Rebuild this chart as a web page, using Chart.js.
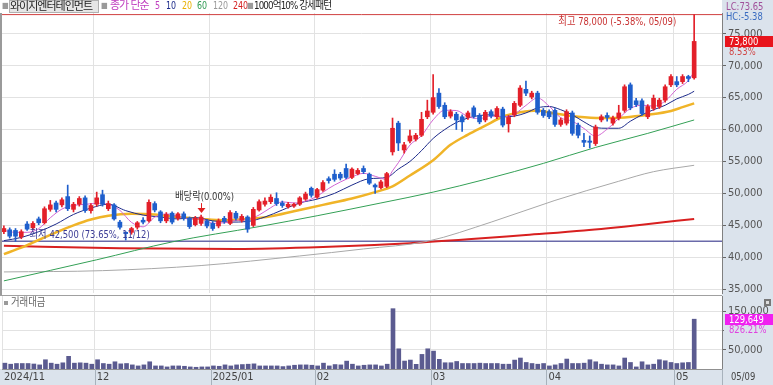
<!DOCTYPE html>
<html lang="ko">
<head>
<meta charset="utf-8">
<script src="https://cdn.jsdelivr.net/npm/chart.js@4.4.1/dist/chart.umd.min.js"></script>
<style>
  body { margin: 0; background: #fff; }
  #wrap { position: relative; width: 773px; height: 385px; overflow: hidden; background: #fff;
          font-family: "Liberation Sans Narrow", "DejaVu Sans Condensed", "Noto Sans CJK KR", sans-serif; }
  #axisBg { position: absolute; left: 722px; top: 0; width: 51px; height: 385px; background: #dbe3ec; }
  #bandBg { position: absolute; left: 0; top: 369px; width: 773px; height: 16px; background: #dbe3ec; }
  #leftLine { position: absolute; left: 0; top: 13px; width: 2px; height: 282px; background: #9a9a9a; }
  #sepLine { position: absolute; left: 0; top: 295px; width: 722px; height: 1px; background: #a0a0a0; }
  canvas { position: absolute; left: 0; }
  #main { top: 0; }
  #vol { top: 296px; }
  .h { position: absolute; top: 0; font-size: 11px; line-height: 12px; white-space: nowrap;
       transform-origin: left center; }
  .sq { color: #9a9a9a; font-size: 8px; top: 0; }
  .ko { letter-spacing: -1px; }
  .d { transform: scaleX(0.8); }
  .name { width: 88px; height: 11px; background: #e6e6e6; border: 1px solid #b0b0b0; color: #222; }
</style>
</head>
<body>
<div id="wrap">
  <div id="axisBg"></div>
  <div id="bandBg"></div>
  <canvas id="main" width="773" height="295"></canvas>
  <canvas id="vol" width="773" height="89"></canvas>
  <div id="leftLine"></div>
  <div id="sepLine"></div>

  <span class="h sq" style="left:2px">■</span>
  <span class="h ko name" style="left:9px">와이지엔터테인먼트</span>
  <span class="h sq" style="left:101px">■</span>
  <span class="h ko" style="left:110px;color:#c040c0">종가 단순</span>
  <span class="h d" style="left:155px;color:#c040c0">5</span>
  <span class="h d" style="left:166px;color:#1c2a8a">10</span>
  <span class="h d" style="left:182px;color:#e8b000">20</span>
  <span class="h d" style="left:197px;color:#2e9a52">60</span>
  <span class="h d" style="left:213px;color:#999">120</span>
  <span class="h d" style="left:233px;color:#d42020">240</span>
  <span class="h sq" style="left:247px">■</span>
  <span class="h ko" style="left:254px;color:#222;transform:scaleX(0.88)">1000억10% 강세패턴</span>
</div>

<script>
    // 일봉 (2024/11/08 ~ 2025/05/09)
    const opens = [44000,44300,44200,43200,45200,44600,46000,45400,47500,48500,
        48200,49500,47500,48300,49300,47300,48300,49800,47600,48200,
        45500,43900,43900,44700,45800,45700,48400,47100,45700,46900,
        46100,46800,46100,45100,45300,45700,45300,44900,46100,45300,
        46900,45800,46300,45000,47400,48300,48700,49200,48500,47900,
        48000,48300,49100,50800,49400,50500,52300,53000,53000,53900,
        52500,53100,53900,53000,51300,50900,51100,56500,61000,56800,
        58200,58500,59100,62000,62700,65700,63800,62100,62400,62000,
        61900,63400,62200,61500,62800,62000,63200,60900,62300,63800,
        66300,65100,65700,63000,62800,63000,60800,61000,62600,60700,
        58300,58200,57800,61500,62200,61000,61800,63000,67000,64500,
        64500,62000,63300,63600,64600,67000,67500,67500,68300,68100];
    const highs = [44900,44600,44500,44300,45600,45600,46300,47900,48900,48800,
        49300,51300,48600,49500,49600,48400,50200,50500,48800,48400,
        45800,44000,44700,45600,46200,49000,48700,47300,47000,47100,
        47000,47100,46300,46400,46600,45900,45600,46000,46400,47300,
        47200,46700,46500,47800,49000,49300,49800,50100,48800,48600,
        48500,49500,50200,51000,50800,52000,52600,53700,53300,54600,
        54000,53900,54300,53200,51500,52100,53300,61800,61300,58000,
        59900,59400,62700,64600,68600,66400,64200,63100,62700,62300,
        62900,63700,62500,63000,63100,63600,63500,62200,64400,66900,
        67600,66000,66000,63300,63100,63300,61800,63100,62900,61000,
        59400,59000,60700,62300,62600,62100,63800,67000,67300,64900,
        64800,63900,65400,64900,67000,68600,68300,68600,68500,78000];
    const lows = [43700,43000,42500,42900,44200,44300,45100,45200,47200,47100,
        47900,47300,47100,48000,47000,46900,48000,48000,47300,45800,
        44400,42700,43600,44400,45200,45500,47100,45400,45400,45200,
        45800,45800,44500,44900,45000,44600,44200,44600,45300,45100,
        45800,45500,43900,44800,47200,48000,48400,48100,47800,47700,
        47800,48100,48900,49400,49200,50300,51600,51900,52100,52300,
        52300,52900,53100,51400,50000,50700,50900,56000,56700,56300,
        57900,58200,58900,61700,62400,63300,61700,61800,60000,59700,
        61600,61800,60900,61200,61800,61700,60400,59600,62000,63600,
        65300,64800,62400,61900,61700,60500,60500,60700,59100,58700,
        57300,57100,57500,61200,61300,60700,61500,62700,63100,63600,
        62200,61700,63000,63300,64300,66700,66700,67200,67500,67900];
    const closes = [44500,43300,43300,44000,44400,45300,45400,47600,48200,47500,
        49000,47600,48300,49200,47300,48100,49300,48300,48400,46000,
        44700,43700,44500,45400,45500,48600,47400,45700,46700,45500,
        46800,46100,44800,46100,46300,44900,44500,45700,45600,47000,
        46100,46400,44400,47500,48700,48800,49400,48400,48100,48300,
        48300,49300,49900,49700,50600,51700,52000,52200,52400,52500,
        53800,53600,53400,51600,51000,51800,53100,60200,57900,57600,
        59000,59100,61600,62900,65000,63600,62000,62800,61500,61200,
        62600,62100,61200,62700,62100,63300,60700,61900,64100,66500,
        65700,65700,62700,62200,62000,60800,61500,62800,59400,59100,
        58000,58000,60400,62000,61900,61800,62600,66700,63400,63900,
        62500,63600,64900,64600,66700,68300,67000,68300,68000,73800];
    // 거래대금 (백만원)
    const volumes = [15200,12500,14300,14300,14300,13000,10700,24100,15200,12500,
        16100,33000,15200,16100,15200,12500,24100,14300,12500,18800,
        13400,14300,10700,8000,10700,18800,8000,8000,5400,8000,
        8000,7100,5400,4500,5400,5400,8000,7100,10700,8000,
        10700,11600,12500,13400,8000,8000,8000,8000,6300,8000,
        9800,10700,10700,9800,8000,15200,8000,11600,10700,20500,
        12500,8000,9800,10700,10700,8000,12500,157000,52600,20700,
        23300,12200,38000,52600,46600,25100,16300,16300,19600,14300,
        14300,14300,15200,14300,14300,14300,12500,12500,23200,28600,
        17000,14300,12500,14300,8000,10700,14300,25900,14300,14300,
        15200,24100,18800,12500,10700,10700,8000,28600,17000,5400,
        18800,10700,12500,24100,21400,17000,14300,16100,17000,129649];

    // 이동평균
    const ma5Idx = [0,2,4,6,8,10,12,14,16,18,20,22,24,26,28,30,32,34,36,38,40,42,44,46,48,50,52,54,56,58,60,62,64,66,67,68,70,72,74,76,78,80,82,84,86,88,90,92,94,96,98,100,102,104,106,108,110,112,114,116,118,119];
    const ma5Val = [44200,43900,43900,44480,46180,47540,48120,48280,48440,48280,47340,45460,44760,46280,46780,46420,45980,46020,45320,45400,45780,45900,46620,47760,48680,48500,48780,49560,50780,51780,52580,53140,52680,52180,53540,54800,57560,59040,61520,63020,62980,62020,61720,62140,62000,62420,63780,64940,63660,61840,61300,60160,58980,60060,61740,63280,63820,63660,64460,66300,67660,69080];
    const ma10Idx = [0,3,6,9,12,15,18,21,24,27,30,33,36,39,42,45,48,51,54,57,60,63,66,68,70,72,74,76,78,80,82,84,86,88,90,92,94,96,98,100,102,104,106,108,110,112,114,116,118,119];
    const ma10Val = [42600,43100,44000,45200,46700,47700,48300,47300,46600,46300,46000,46200,45700,45500,45600,46300,47400,48500,49100,50000,51300,52300,52500,53800,55000,56700,58600,60000,61100,61800,62200,62300,62000,62100,62600,63400,63600,63100,62300,61200,60300,60200,60200,61300,62300,63100,63800,64800,65500,66000];
    const ma20Idx = [0,3,6,9,12,15,18,22,26,30,34,38,42,46,50,55,60,64,67,70,74,77,80,83,86,89,92,95,99,103,107,111,115,117,119];
    const ma20Val = [40500,41500,42700,43900,45000,45900,46500,46800,46700,46300,46000,45800,46000,46400,47200,48200,49200,50200,51100,52800,55200,57600,59200,60600,62000,62700,63000,62500,62000,61800,61900,62300,62900,63500,64100];
    const ma60Idx = [0,16,29,44,54,65,74,83,93,102,111,119];
    const ma60Val = [36300,39600,42400,44800,46500,48500,50200,52200,54700,57200,59400,61500];
    const ma120Idx = [0,17,34,51,62,73,84,95,106,112,119];
    const ma120Val = [37700,37900,38700,40200,41300,42500,45500,48900,51900,53400,54400];
    const ma240Idx = [0,20,40,55,70,80,90,100,110,119];
    const ma240Val = [41800,41400,41300,41600,42200,42800,43500,44200,45100,46000];

    // 축
    const monthStart = [0,16,36,54,74,94,116];
    const monthLabels = ['2024/11','12','2025/01','02','03','04','05'];
    const priceTicks = [35000,40000,45000,50000,55000,60000,65000,70000,75000];
    const volTicks = [50000,100000,150000];

    // 표시 문구
    const highNote = '최고 78,000 (-5.38%, 05/09)';
    const lowNote = '최저 42,500 (73.65%, 11/12)';
    const divNote = '배당락(0.00%)';
    const divIndex = 34;
    const lastDate = '05/09';
    const lcText = 'LC:73.65';
    const hcText = 'HC:-5.38';
    const lastPct = '8.53%';
    const volPct = '826.21%';

    const NARROW = '"Liberation Sans Narrow", "DejaVu Sans Condensed", "Noto Sans CJK KR", sans-serif';
    const UP = '#e3202a';
    const DOWN = '#1f5fcc';
    const AXIS_BG = '#dbe3ec';
    const X_MAX = 123.8;
    const SQUEEZE = 0.85;

    const hiPrice = Math.max(...highs);
    const loPrice = Math.min(...lows);
    const hiIdx = highs.indexOf(hiPrice);
    const loIdx = lows.indexOf(loPrice);
    const last = closes.length - 1;

    function candleColor(ctx) {
        const i = ctx.dataIndex;
        if (i === undefined) return UP;
        return closes[i] >= opens[i] ? UP : DOWN;
    }

    function pts(idx, val) {
        return idx.map((x, k) => ({x: x, y: val[k]}));
    }

    function fmt(v) {
        return Number(v).toLocaleString('en-US');
    }

    // 좁은 글꼴이 없어서 가로로 조금 눌러서 쓴다
    function text(ctx, str, x, y, color, align) {
        ctx.save();
        ctx.translate(x, y);
        ctx.scale(SQUEEZE, 1);
        ctx.fillStyle = color;
        ctx.textAlign = align || 'left';
        ctx.fillText(str, 0, 0);
        ctx.restore();
    }

    function noPad(s) {
        s.paddingTop = 0;
        s.paddingBottom = 0;
        s.width = 51;
    }

    function maLine(label, idx, val, color, width, order) {
        return {
            type: 'line', label: label, data: pts(idx, val),
            borderColor: color, borderWidth: width, pointRadius: 0,
            cubicInterpolationMode: 'monotone', order: order
        };
    }

    const wickData = closes.map((c, i) => ({x: i, y: [lows[i], highs[i]]}));
    const bodyData = closes.map((c, i) => ({x: i, y: [opens[i], closes[i]]}));

    const mainOverlay = {
        id: 'mainOverlay',
        afterDraw(chart) {
            const ctx = chart.ctx;
            const xs = chart.scales.x, ys = chart.scales.y;
            ctx.save();
            ctx.font = '11px ' + NARROW;
            ctx.textBaseline = 'middle';

            text(ctx, highNote, xs.getPixelForValue(hiIdx) - 18, ys.getPixelForValue(hiPrice) + 7.5, '#c83232', 'right');
            text(ctx, lowNote, xs.getPixelForValue(loIdx) + 14, ys.getPixelForValue(loPrice) - 6.5, '#3c3c96');

            // 배당락
            const dx = Math.round(xs.getPixelForValue(divIndex)) + 0.5;
            const dTop = ys.getPixelForValue(highs[divIndex]);
            text(ctx, divNote, dx + 3, dTop - 18, '#333', 'center');
            ctx.strokeStyle = '#e02020';
            ctx.lineWidth = 1;
            ctx.beginPath();
            ctx.moveTo(dx, dTop - 12);
            ctx.lineTo(dx, dTop - 7);
            ctx.stroke();
            ctx.fillStyle = '#e02020';
            ctx.beginPath();
            ctx.moveTo(dx - 4, dTop - 7);
            ctx.lineTo(dx + 4, dTop - 7);
            ctx.lineTo(dx, dTop - 2);
            ctx.closePath();
            ctx.fill();

            // 오른쪽 축 표시
            text(ctx, lcText, 726, 7, '#a0509a');
            text(ctx, hcText, 726, 17, '#3a6cc0');

            const yc = ys.getPixelForValue(closes[last]);
            ctx.fillStyle = '#e8141c';
            ctx.fillRect(725, Math.round(yc) - 5, 48, 11);
            text(ctx, fmt(closes[last]), 729, yc + 0.5, '#fff');
            text(ctx, lastPct, 729, yc + 11, '#d04848');
            ctx.restore();
        }
    };

    const volOverlay = {
        id: 'volOverlay',
        afterDraw(chart) {
            const ctx = chart.ctx;
            const xs = chart.scales.x, ys = chart.scales.y;
            const area = chart.chartArea;
            ctx.save();
            ctx.font = '11px ' + NARROW;
            ctx.textBaseline = 'middle';

            ctx.fillStyle = '#9a9a9a';
            ctx.fillRect(4, 5, 4, 4);
            text(ctx, '거래대금', 11, 7.5, '#666');

            ctx.fillStyle = '#777';
            ctx.fillRect(764, 3, 7, 7);
            ctx.fillStyle = '#ddd';
            ctx.fillRect(766, 5, 3, 3);

            const yv = ys.getPixelForValue(volumes[last]);
            ctx.fillStyle = '#f020f0';
            ctx.fillRect(725, Math.round(yv) - 5, 48, 11);
            text(ctx, fmt(volumes[last]), 729, yv + 0.5, '#fff');
            ctx.fillStyle = AXIS_BG;
            ctx.fillRect(724, Math.round(yv) + 6, 49, 10);
            text(ctx, volPct, 729, yv + 11, '#e040e0');

            // 날짜 띠의 구분선
            ctx.strokeStyle = '#a8b2bc';
            ctx.lineWidth = 1;
            ctx.beginPath();
            monthStart.slice(1).forEach(m => {
                const px = Math.round(xs.getPixelForValue(m - 0.5)) + 0.5;
                ctx.moveTo(px, area.bottom);
                ctx.lineTo(px, area.bottom + 16);
            });
            ctx.moveTo(area.right + 0.5, area.bottom);
            ctx.lineTo(area.right + 0.5, area.bottom + 16);
            ctx.stroke();

            text(ctx, lastDate, 731, area.bottom + 8, '#444');
            ctx.restore();
        }
    };

    new Chart(document.getElementById('main'), {
        type: 'bar',
        data: {
            datasets: [
                {
                    label: 'wick', data: wickData, backgroundColor: candleColor,
                    barThickness: 1, grouped: false, borderSkipped: false, order: 0
                },
                {
                    label: 'body', data: bodyData, backgroundColor: candleColor,
                    barThickness: 4, minBarLength: 1, grouped: false, borderSkipped: false, order: 0
                },
                maLine('5', ma5Idx, ma5Val, '#d264d2', 1, 1),
                maLine('10', ma10Idx, ma10Val, '#1c2a8a', 1, 2),
                maLine('20', ma20Idx, ma20Val, '#f0b428', 2.5, 3),
                maLine('60', ma60Idx, ma60Val, '#34a056', 1, 4),
                maLine('120', ma120Idx, ma120Val, '#a8a8a8', 1, 5),
                maLine('240', ma240Idx, ma240Val, '#d82020', 2, 6),
                {
                    type: 'line', label: 'high', order: 7,
                    data: [{x: -0.5, y: hiPrice}, {x: X_MAX, y: hiPrice}],
                    borderColor: '#d04040', borderWidth: 1, pointRadius: 0
                },
                {
                    type: 'line', label: 'low', order: 7,
                    data: [{x: -0.5, y: loPrice}, {x: X_MAX, y: loPrice}],
                    borderColor: '#6a6aaa', borderWidth: 1.5, pointRadius: 0
                }
            ]
        },
        options: {
            responsive: false,
            animation: false,
            devicePixelRatio: 1,
            layout: {padding: {top: 13, left: 1, right: 0, bottom: 2}},
            plugins: {legend: {display: false}, tooltip: {enabled: false}},
            scales: {
                x: {
                    type: 'linear', min: -0.5, max: X_MAX, offset: false,
                    afterBuildTicks: s => { s.ticks = monthStart.slice(1).map(v => ({value: v - 0.5})); },
                    ticks: {display: false},
                    grid: {color: '#e2e2e2', drawTicks: false, offset: false},
                    border: {display: false}
                },
                y: {
                    position: 'right', min: 34400, max: 78250,
                    afterBuildTicks: s => { s.ticks = priceTicks.map(v => ({value: v})); },
                    afterFit: noPad,
                    ticks: {color: '#555', font: {family: NARROW, size: 11}, padding: 2, callback: v => fmt(v)},
                    grid: {color: '#e2e2e2', tickLength: 4, tickColor: '#666'},
                    border: {color: '#808080'}
                }
            }
        },
        plugins: [mainOverlay]
    });

    new Chart(document.getElementById('vol'), {
        type: 'bar',
        data: {
            datasets: [{
                label: '거래대금',
                data: volumes.map((v, i) => ({x: i, y: v})),
                backgroundColor: '#5b5b90',
                barThickness: 4
            }]
        },
        options: {
            responsive: false,
            animation: false,
            devicePixelRatio: 1,
            layout: {padding: {top: 0, left: 1, right: 0, bottom: 0}},
            plugins: {legend: {display: false}, tooltip: {enabled: false}},
            scales: {
                x: {
                    type: 'linear', min: -0.5, max: X_MAX, offset: false,
                    afterBuildTicks: s => { s.ticks = monthStart.map(v => ({value: v - 0.5})); },
                    afterFit: s => { s.height = 16; },
                    ticks: {
                        color: '#444', font: {family: NARROW, size: 11}, align: 'start', labelOffset: 2,
                        padding: 2, autoSkip: false, maxRotation: 0,
                        callback: (v, i) => monthLabels[i]
                    },
                    grid: {color: '#e2e2e2', drawTicks: false, offset: false},
                    border: {color: '#909090'}
                },
                y: {
                    position: 'right', min: 0, max: 190000,
                    afterBuildTicks: s => { s.ticks = volTicks.map(v => ({value: v})); },
                    afterFit: noPad,
                    ticks: {color: '#555', font: {family: NARROW, size: 11}, padding: 2, callback: v => fmt(v)},
                    grid: {color: '#e2e2e2', tickLength: 4, tickColor: '#666'},
                    border: {color: '#808080'}
                }
            }
        },
        plugins: [volOverlay]
    });
</script>
</body>
</html>
